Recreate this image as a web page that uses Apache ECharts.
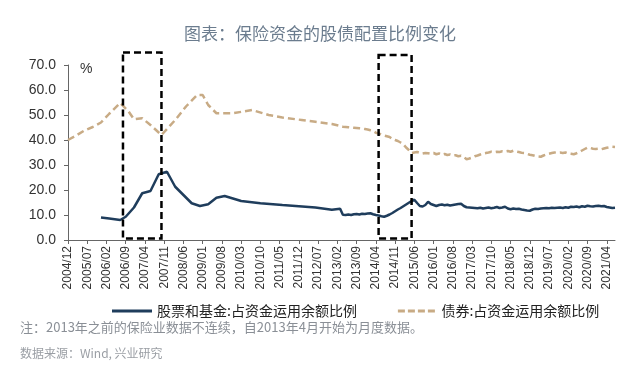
<!DOCTYPE html>
<html>
<head>
<meta charset="utf-8">
<script src="https://cdn.jsdelivr.net/npm/echarts@6/dist/echarts.min.js"></script>
<style>html,body{margin:0;padding:0;background:#fff}#c{width:640px;height:370px}</style>
</head>
<body>
<div id="c"></div>
<script>
// Monthly category axis 2004/12 .. 2021/07
var startYear = 2004, startMonth = 12, monthCount = 200;
var categories = [];
for (var i = 0; i < monthCount; i++) {
  var m = startMonth - 1 + i;
  var y = startYear + Math.floor(m / 12);
  var mm = (m % 12) + 1;
  categories.push(y + '/' + (mm < 10 ? '0' + mm : mm));
}

var seriesNames = ['股票和基金:占资金运用余额比例', '债券:占资金运用余额比例'];

// Sparse data before monthly reporting (2013/04)
var equityEarly = [
  ['2005/12', 9.0], ['2006/03', 8.6], ['2006/07', 8.0], ['2006/09', 9.3], ['2006/12', 13.0],
  ['2007/03', 18.7], ['2007/06', 19.6], ['2007/09', 26.3], ['2007/12', 27.3], ['2008/03', 21.3],
  ['2008/06', 18.0], ['2008/09', 14.7], ['2008/12', 13.6], ['2009/03', 14.3], ['2009/06', 16.9],
  ['2009/09', 17.6], ['2010/03', 15.6], ['2010/10', 14.7], ['2011/06', 14.0], ['2012/06', 13.0],
  ['2012/12', 12.1], ['2013/03', 12.5]
];
var bondEarly = [
  ['2004/12', 40.0], ['2005/03', 41.8], ['2005/06', 43.8], ['2005/09', 45.2], ['2005/12', 47.0],
  ['2006/03', 50.5], ['2006/07', 54.8], ['2006/10', 51.5], ['2006/12', 48.3], ['2007/03', 48.7],
  ['2007/06', 46.0], ['2007/10', 42.0], ['2008/03', 48.0], ['2008/07', 53.5], ['2008/11', 58.0],
  ['2009/01', 58.0], ['2009/03', 54.0], ['2009/06', 50.7], ['2009/12', 50.7], ['2010/07', 52.0],
  ['2011/01', 50.0], ['2011/06', 49.0], ['2012/01', 48.0], ['2012/06', 47.3], ['2012/12', 46.4],
  ['2013/03', 45.6]
];
// Monthly data 2013/04 .. 2021/07
var monthlyStart = '2013/04';
var equityMonthly = [
  10.1,10.0,10.2,10.0,10.3,10.4,10.2,10.5,10.4,
  10.6,10.7,10.3,10.0,9.8,9.5,9.3,9.7,10.2,10.8,11.5,12.2,
  12.8,13.5,14.2,14.9,15.6,16.1,14.8,13.6,13.4,14.0,15.3,14.4,
  14.0,13.6,14.0,14.2,13.9,14.1,13.8,14.0,14.2,14.4,14.5,13.6,
  13.1,13.0,12.9,12.8,12.7,12.9,12.6,12.8,13.0,12.7,12.9,13.2,
  12.8,13.0,13.3,12.6,12.3,12.6,12.4,12.5,12.2,12.0,11.8,11.7,
  12.2,12.5,12.4,12.6,12.7,12.8,12.7,12.9,12.8,12.9,13.0,12.8,
  13.1,12.9,13.3,13.2,13.4,13.1,13.5,13.3,13.7,13.5,13.4,13.6,
  13.7,13.5,13.6,13.2,13.0,12.8,12.9
];
var bondMonthly = [
  45.3,45.2,45.1,45.0,44.9,44.8,44.7,44.6,44.4,
  44.2,43.9,43.6,42.9,42.6,42.2,41.8,41.5,41.2,40.4,40.0,39.6,
  39.0,38.3,37.0,36.0,34.8,35.0,35.2,34.9,34.6,34.8,34.7,34.5,
  34.8,34.3,34.6,34.1,34.4,34.0,34.2,33.8,33.9,33.5,33.7,33.2,
  32.3,32.6,33.0,33.5,33.8,34.2,34.6,34.8,35.0,35.3,35.1,35.3,
  35.2,35.5,35.4,35.6,35.3,35.7,35.4,35.2,34.9,34.8,34.5,34.1,
  33.9,33.6,33.4,33.3,33.8,34.2,34.5,34.8,35.0,34.9,35.0,34.8,
  35.0,34.6,34.5,34.3,34.7,35.2,35.8,36.4,37.0,36.8,36.5,36.4,
  36.5,36.3,36.6,36.9,37.1,37.3,37.2
];
// Highlight boxes [startCategory, endCategory, top value]
var boxes = [['2006/08', '2007/10', 75], ['2014/05', '2015/05', 74]];

function build(early, monthly) {
  var arr = categories.map(function () { return null; });
  early.forEach(function (p) { arr[categories.indexOf(p[0])] = p[1]; });
  var s = categories.indexOf(monthlyStart);
  monthly.forEach(function (v, k) { arr[s + k] = v; });
  return arr;
}
var equityData = build(equityEarly, equityMonthly);
var bondData = build(bondEarly, bondMonthly);

var chart = echarts.init(document.getElementById('c'), null, {renderer: 'canvas'});
var fontLatin = 'Liberation Sans, Arial, sans-serif';
var fontCJK = '"Noto Sans CJK SC", sans-serif';
var dashIcon = 'path://M0,0h7v3h-7z M10,0h7v3h-7z M20,0h7v3h-7z M30,0h7v3h-7z';
chart.setOption({
  animation: false,
  backgroundColor: '#fff',
  title: {
    text: '图表：保险资金的股债配置比例变化',
    left: 'center', top: 20,
    textStyle: {fontFamily: fontCJK, fontSize: 17, fontWeight: 'normal', color: '#6b7c8e'}
  },
  graphic: [
    {id: 'pct', type: 'text', left: 80, top: 62, style: {text: '%', font: '14px ' + fontLatin, fill: '#333'}},
    {id: 'note', type: 'text', left: 20, top: 321, style: {text: '注：2013年之前的保险业数据不连续，自2013年4月开始为月度数据。', font: '13px ' + fontCJK, fill: '#8a8f96'}},
    {id: 'src', type: 'text', left: 20, top: 347, style: {text: '数据来源：Wind, 兴业研究', font: '12px ' + fontCJK, fill: '#9a9ea4'}}
  ],
  legend: {
    left: 107, top: 299,
    itemWidth: 40, itemHeight: 3, itemGap: 41,
    textStyle: {fontFamily: fontCJK, fontSize: 14, color: '#222'},
    data: [
      {name: seriesNames[0], icon: 'rect'},
      {name: seriesNames[1], icon: dashIcon}
    ]
  },
  grid: {left: 68, right: 25, top: 65, bottom: 130, containLabel: false},
  xAxis: {
    type: 'category', data: categories, boundaryGap: false,
    axisLine: {lineStyle: {color: '#666', width: 1}},
    axisTick: {interval: 6, length: 4, lineStyle: {color: '#666'}},
    axisLabel: {interval: 6, rotate: 90, fontFamily: fontLatin, fontSize: 12, color: '#333', margin: 6}
  },
  yAxis: {
    type: 'value', min: 0, max: 70, interval: 10,
    splitLine: {show: false},
    axisLine: {show: true, lineStyle: {color: '#666'}},
    axisTick: {show: true, length: 4, lineStyle: {color: '#666'}},
    axisLabel: {fontFamily: fontLatin, fontSize: 14, color: '#333', margin: 12,
      formatter: function (v) { return v.toFixed(1); }}
  },
  series: [
    {
      name: seriesNames[0], type: 'line', data: equityData, connectNulls: true,
      symbol: 'none', smooth: false,
      lineStyle: {color: '#1f3d5c', width: 2.5},
      itemStyle: {color: '#1f3d5c'}
    },
    {
      name: seriesNames[1], type: 'line', data: bondData, connectNulls: true,
      symbol: 'none', smooth: false,
      lineStyle: {color: '#c8ab85', width: 2.5, type: [7, 4]},
      itemStyle: {color: '#c8ab85'}
    }
  ]
});

// Dashed highlight boxes positioned through the axis scales
var boxGraphics = boxes.map(function (b, k) {
  var p1 = chart.convertToPixel({gridIndex: 0}, [b[0], b[2]]);
  var p2 = chart.convertToPixel({gridIndex: 0}, [b[1], 0.6]);
  return {
    id: 'box' + k, type: 'rect', z: 100,
    shape: {x: p1[0], y: p1[1], width: p2[0] - p1[0], height: p2[1] - p1[1]},
    style: {fill: 'none', stroke: '#000', lineWidth: 2.5, lineDash: [7, 4]}
  };
});
chart.setOption({graphic: boxGraphics});
</script>
</body>
</html>
